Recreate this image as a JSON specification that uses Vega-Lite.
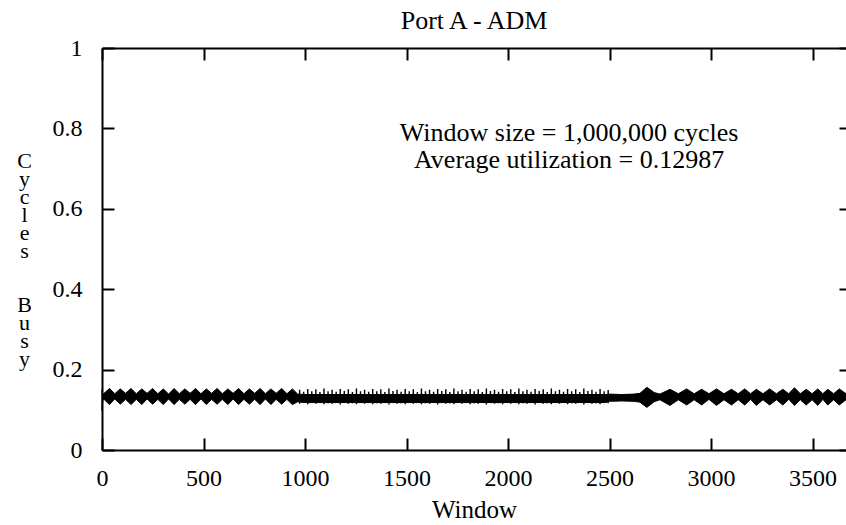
{
  "$schema": "https://vega.github.io/schema/vega-lite/v6.json",
  "autosize": {"type": "none"},
  "padding": {"left": 102, "top": 48, "right": 0, "bottom": 75},
  "width": 744,
  "height": 402,
  "background": "white",
  "title": {"text": "Port A - ADM", "font": "Liberation Serif", "fontSize": 26, "fontWeight": "normal", "color": "black", "baseline": "alphabetic", "offset": 19, "dy": 38, "anchor": "middle"},
  "config": {
    "view": {"stroke": null},
    "axis": {"grid": false, "domainColor": "black", "tickColor": "black", "labelColor": "black", "titleColor": "black", "labelFont": "Liberation Serif", "titleFont": "Liberation Serif", "labelFontSize": 24, "titleFontSize": 25, "titleFontWeight": "normal", "domainWidth": 2, "tickWidth": 2}
  },
  "data": {"values": [
    {"p":"d","w":0,"hi":0.150,"lo":0.098},
    {"p":"d","w":4,"hi":0.138,"lo":0.124},
    {"p":"d","w":10,"hi":0.141,"lo":0.126},
    {"p":"d","w":37,"hi":0.153,"lo":0.113},
    {"p":"d","w":63,"hi":0.140,"lo":0.127},
    {"p":"d","w":90,"hi":0.152,"lo":0.114},
    {"p":"d","w":116,"hi":0.141,"lo":0.126},
    {"p":"d","w":143,"hi":0.153,"lo":0.113},
    {"p":"d","w":169,"hi":0.140,"lo":0.126},
    {"p":"d","w":196,"hi":0.152,"lo":0.113},
    {"p":"d","w":222,"hi":0.141,"lo":0.127},
    {"p":"d","w":249,"hi":0.153,"lo":0.114},
    {"p":"d","w":275,"hi":0.140,"lo":0.126},
    {"p":"d","w":302,"hi":0.152,"lo":0.113},
    {"p":"d","w":328,"hi":0.139,"lo":0.127},
    {"p":"d","w":355,"hi":0.153,"lo":0.113},
    {"p":"d","w":381,"hi":0.140,"lo":0.126},
    {"p":"d","w":408,"hi":0.152,"lo":0.114},
    {"p":"d","w":434,"hi":0.141,"lo":0.126},
    {"p":"d","w":461,"hi":0.153,"lo":0.113},
    {"p":"d","w":487,"hi":0.140,"lo":0.127},
    {"p":"d","w":514,"hi":0.152,"lo":0.113},
    {"p":"d","w":540,"hi":0.141,"lo":0.126},
    {"p":"d","w":567,"hi":0.153,"lo":0.114},
    {"p":"d","w":593,"hi":0.140,"lo":0.126},
    {"p":"d","w":620,"hi":0.152,"lo":0.113},
    {"p":"d","w":646,"hi":0.141,"lo":0.127},
    {"p":"d","w":673,"hi":0.153,"lo":0.113},
    {"p":"d","w":699,"hi":0.140,"lo":0.126},
    {"p":"d","w":726,"hi":0.152,"lo":0.114},
    {"p":"d","w":752,"hi":0.141,"lo":0.126},
    {"p":"d","w":779,"hi":0.153,"lo":0.113},
    {"p":"d","w":805,"hi":0.140,"lo":0.127},
    {"p":"d","w":832,"hi":0.152,"lo":0.113},
    {"p":"d","w":858,"hi":0.141,"lo":0.126},
    {"p":"d","w":885,"hi":0.153,"lo":0.114},
    {"p":"d","w":911,"hi":0.140,"lo":0.126},
    {"p":"d","w":938,"hi":0.152,"lo":0.113},
    {"p":"d","w":964,"hi":0.139,"lo":0.120},
    {"p":"d","w":1000,"hi":0.138,"lo":0.118},
    {"p":"d","w":2480,"hi":0.138,"lo":0.118},
    {"p":"d","w":2500,"hi":0.139,"lo":0.121},
    {"p":"d","w":2560,"hi":0.138,"lo":0.122},
    {"p":"d","w":2620,"hi":0.139,"lo":0.121},
    {"p":"d","w":2650,"hi":0.141,"lo":0.119},
    {"p":"d","w":2684,"hi":0.156,"lo":0.106},
    {"p":"d","w":2720,"hi":0.143,"lo":0.120},
    {"p":"d","w":2748,"hi":0.139,"lo":0.125},
    {"p":"d","w":2798,"hi":0.151,"lo":0.111},
    {"p":"d","w":2839,"hi":0.140,"lo":0.125},
    {"p":"d","w":2880,"hi":0.152,"lo":0.112},
    {"p":"d","w":2917,"hi":0.140,"lo":0.125},
    {"p":"d","w":2954,"hi":0.151,"lo":0.112},
    {"p":"d","w":2990,"hi":0.140,"lo":0.126},
    {"p":"d","w":3027,"hi":0.152,"lo":0.111},
    {"p":"d","w":3064,"hi":0.140,"lo":0.125},
    {"p":"d","w":3101,"hi":0.151,"lo":0.112},
    {"p":"d","w":3134,"hi":0.140,"lo":0.125},
    {"p":"d","w":3166,"hi":0.152,"lo":0.112},
    {"p":"d","w":3195,"hi":0.140,"lo":0.126},
    {"p":"d","w":3223,"hi":0.151,"lo":0.111},
    {"p":"d","w":3256,"hi":0.140,"lo":0.125},
    {"p":"d","w":3289,"hi":0.152,"lo":0.112},
    {"p":"d","w":3322,"hi":0.140,"lo":0.125},
    {"p":"d","w":3354,"hi":0.151,"lo":0.112},
    {"p":"d","w":3383,"hi":0.140,"lo":0.126},
    {"p":"d","w":3411,"hi":0.155,"lo":0.111},
    {"p":"d","w":3440,"hi":0.140,"lo":0.125},
    {"p":"d","w":3469,"hi":0.151,"lo":0.112},
    {"p":"d","w":3498,"hi":0.140,"lo":0.125},
    {"p":"d","w":3526,"hi":0.152,"lo":0.111},
    {"p":"d","w":3551,"hi":0.140,"lo":0.126},
    {"p":"d","w":3575,"hi":0.151,"lo":0.112},
    {"p":"d","w":3604,"hi":0.140,"lo":0.125},
    {"p":"d","w":3632,"hi":0.152,"lo":0.112},
    {"p":"d","w":3665,"hi":0.140,"lo":0.125},
    {"p":"s","w":970,"hi":0.150,"lo":0.115},{"p":"s","w":977,"hi":0.137,"lo":0.119},
    {"p":"s","w":990,"hi":0.145,"lo":0.117},{"p":"s","w":997,"hi":0.137,"lo":0.119},
    {"p":"s","w":1010,"hi":0.152,"lo":0.114},{"p":"s","w":1017,"hi":0.137,"lo":0.119},
    {"p":"s","w":1030,"hi":0.146,"lo":0.117},{"p":"s","w":1037,"hi":0.137,"lo":0.119},
    {"p":"s","w":1050,"hi":0.151,"lo":0.115},{"p":"s","w":1057,"hi":0.137,"lo":0.119},
    {"p":"s","w":1070,"hi":0.144,"lo":0.117},{"p":"s","w":1077,"hi":0.137,"lo":0.119},
    {"p":"s","w":1090,"hi":0.153,"lo":0.114},{"p":"s","w":1097,"hi":0.137,"lo":0.119},
    {"p":"s","w":1110,"hi":0.146,"lo":0.116},{"p":"s","w":1117,"hi":0.137,"lo":0.119},
    {"p":"s","w":1130,"hi":0.150,"lo":0.115},{"p":"s","w":1137,"hi":0.137,"lo":0.119},
    {"p":"s","w":1150,"hi":0.145,"lo":0.117},{"p":"s","w":1157,"hi":0.137,"lo":0.119},
    {"p":"s","w":1170,"hi":0.152,"lo":0.113},{"p":"s","w":1177,"hi":0.137,"lo":0.119},
    {"p":"s","w":1190,"hi":0.147,"lo":0.117},{"p":"s","w":1197,"hi":0.137,"lo":0.119},
    {"p":"s","w":1210,"hi":0.151,"lo":0.115},{"p":"s","w":1217,"hi":0.137,"lo":0.119},
    {"p":"s","w":1230,"hi":0.144,"lo":0.116},{"p":"s","w":1237,"hi":0.137,"lo":0.119},
    {"p":"s","w":1250,"hi":0.153,"lo":0.114},{"p":"s","w":1257,"hi":0.137,"lo":0.119},
    {"p":"s","w":1270,"hi":0.146,"lo":0.117},{"p":"s","w":1277,"hi":0.137,"lo":0.119},
    {"p":"s","w":1290,"hi":0.150,"lo":0.115},{"p":"s","w":1297,"hi":0.137,"lo":0.119},
    {"p":"s","w":1310,"hi":0.145,"lo":0.117},{"p":"s","w":1317,"hi":0.137,"lo":0.119},
    {"p":"s","w":1330,"hi":0.152,"lo":0.114},{"p":"s","w":1337,"hi":0.137,"lo":0.119},
    {"p":"s","w":1350,"hi":0.146,"lo":0.116},{"p":"s","w":1357,"hi":0.137,"lo":0.119},
    {"p":"s","w":1370,"hi":0.151,"lo":0.115},{"p":"s","w":1377,"hi":0.137,"lo":0.119},
    {"p":"s","w":1390,"hi":0.144,"lo":0.117},{"p":"s","w":1397,"hi":0.137,"lo":0.119},
    {"p":"s","w":1410,"hi":0.153,"lo":0.113},{"p":"s","w":1417,"hi":0.137,"lo":0.119},
    {"p":"s","w":1430,"hi":0.147,"lo":0.117},{"p":"s","w":1437,"hi":0.137,"lo":0.119},
    {"p":"s","w":1450,"hi":0.150,"lo":0.115},{"p":"s","w":1457,"hi":0.137,"lo":0.119},
    {"p":"s","w":1470,"hi":0.145,"lo":0.116},{"p":"s","w":1477,"hi":0.137,"lo":0.119},
    {"p":"s","w":1490,"hi":0.152,"lo":0.114},{"p":"s","w":1497,"hi":0.137,"lo":0.119},
    {"p":"s","w":1510,"hi":0.146,"lo":0.117},{"p":"s","w":1517,"hi":0.137,"lo":0.119},
    {"p":"s","w":1530,"hi":0.151,"lo":0.115},{"p":"s","w":1537,"hi":0.137,"lo":0.119},
    {"p":"s","w":1550,"hi":0.144,"lo":0.117},{"p":"s","w":1557,"hi":0.137,"lo":0.119},
    {"p":"s","w":1570,"hi":0.153,"lo":0.114},{"p":"s","w":1577,"hi":0.137,"lo":0.119},
    {"p":"s","w":1590,"hi":0.146,"lo":0.116},{"p":"s","w":1597,"hi":0.137,"lo":0.119},
    {"p":"s","w":1610,"hi":0.150,"lo":0.115},{"p":"s","w":1617,"hi":0.137,"lo":0.119},
    {"p":"s","w":1630,"hi":0.145,"lo":0.117},{"p":"s","w":1637,"hi":0.137,"lo":0.119},
    {"p":"s","w":1650,"hi":0.152,"lo":0.113},{"p":"s","w":1657,"hi":0.137,"lo":0.119},
    {"p":"s","w":1670,"hi":0.147,"lo":0.117},{"p":"s","w":1677,"hi":0.137,"lo":0.119},
    {"p":"s","w":1690,"hi":0.151,"lo":0.115},{"p":"s","w":1697,"hi":0.137,"lo":0.119},
    {"p":"s","w":1710,"hi":0.144,"lo":0.116},{"p":"s","w":1717,"hi":0.137,"lo":0.119},
    {"p":"s","w":1730,"hi":0.153,"lo":0.114},{"p":"s","w":1737,"hi":0.137,"lo":0.119},
    {"p":"s","w":1750,"hi":0.146,"lo":0.117},{"p":"s","w":1757,"hi":0.137,"lo":0.119},
    {"p":"s","w":1770,"hi":0.150,"lo":0.115},{"p":"s","w":1777,"hi":0.137,"lo":0.119},
    {"p":"s","w":1790,"hi":0.145,"lo":0.117},{"p":"s","w":1797,"hi":0.137,"lo":0.119},
    {"p":"s","w":1810,"hi":0.152,"lo":0.114},{"p":"s","w":1817,"hi":0.137,"lo":0.119},
    {"p":"s","w":1830,"hi":0.146,"lo":0.116},{"p":"s","w":1837,"hi":0.137,"lo":0.119},
    {"p":"s","w":1850,"hi":0.151,"lo":0.115},{"p":"s","w":1857,"hi":0.137,"lo":0.119},
    {"p":"s","w":1870,"hi":0.144,"lo":0.117},{"p":"s","w":1877,"hi":0.137,"lo":0.119},
    {"p":"s","w":1890,"hi":0.153,"lo":0.113},{"p":"s","w":1897,"hi":0.137,"lo":0.119},
    {"p":"s","w":1910,"hi":0.147,"lo":0.117},{"p":"s","w":1917,"hi":0.137,"lo":0.119},
    {"p":"s","w":1930,"hi":0.150,"lo":0.115},{"p":"s","w":1937,"hi":0.137,"lo":0.119},
    {"p":"s","w":1950,"hi":0.145,"lo":0.116},{"p":"s","w":1957,"hi":0.137,"lo":0.119},
    {"p":"s","w":1970,"hi":0.152,"lo":0.114},{"p":"s","w":1977,"hi":0.137,"lo":0.119},
    {"p":"s","w":1990,"hi":0.146,"lo":0.117},{"p":"s","w":1997,"hi":0.137,"lo":0.119},
    {"p":"s","w":2010,"hi":0.151,"lo":0.115},{"p":"s","w":2017,"hi":0.137,"lo":0.119},
    {"p":"s","w":2030,"hi":0.144,"lo":0.117},{"p":"s","w":2037,"hi":0.137,"lo":0.119},
    {"p":"s","w":2050,"hi":0.153,"lo":0.114},{"p":"s","w":2057,"hi":0.137,"lo":0.119},
    {"p":"s","w":2070,"hi":0.146,"lo":0.116},{"p":"s","w":2077,"hi":0.137,"lo":0.119},
    {"p":"s","w":2090,"hi":0.150,"lo":0.115},{"p":"s","w":2097,"hi":0.137,"lo":0.119},
    {"p":"s","w":2110,"hi":0.145,"lo":0.117},{"p":"s","w":2117,"hi":0.137,"lo":0.119},
    {"p":"s","w":2130,"hi":0.152,"lo":0.113},{"p":"s","w":2137,"hi":0.137,"lo":0.119},
    {"p":"s","w":2150,"hi":0.147,"lo":0.117},{"p":"s","w":2157,"hi":0.137,"lo":0.119},
    {"p":"s","w":2170,"hi":0.151,"lo":0.115},{"p":"s","w":2177,"hi":0.137,"lo":0.119},
    {"p":"s","w":2190,"hi":0.144,"lo":0.116},{"p":"s","w":2197,"hi":0.137,"lo":0.119},
    {"p":"s","w":2210,"hi":0.153,"lo":0.114},{"p":"s","w":2217,"hi":0.137,"lo":0.119},
    {"p":"s","w":2230,"hi":0.146,"lo":0.117},{"p":"s","w":2237,"hi":0.137,"lo":0.119},
    {"p":"s","w":2250,"hi":0.150,"lo":0.115},{"p":"s","w":2257,"hi":0.137,"lo":0.119},
    {"p":"s","w":2270,"hi":0.145,"lo":0.117},{"p":"s","w":2277,"hi":0.137,"lo":0.119},
    {"p":"s","w":2290,"hi":0.152,"lo":0.114},{"p":"s","w":2297,"hi":0.137,"lo":0.119},
    {"p":"s","w":2310,"hi":0.146,"lo":0.116},{"p":"s","w":2317,"hi":0.137,"lo":0.119},
    {"p":"s","w":2330,"hi":0.151,"lo":0.115},{"p":"s","w":2337,"hi":0.137,"lo":0.119},
    {"p":"s","w":2350,"hi":0.144,"lo":0.117},{"p":"s","w":2357,"hi":0.137,"lo":0.119},
    {"p":"s","w":2370,"hi":0.153,"lo":0.113},{"p":"s","w":2377,"hi":0.137,"lo":0.119},
    {"p":"s","w":2390,"hi":0.147,"lo":0.117},{"p":"s","w":2397,"hi":0.137,"lo":0.119},
    {"p":"s","w":2410,"hi":0.150,"lo":0.115},{"p":"s","w":2417,"hi":0.137,"lo":0.119},
    {"p":"s","w":2430,"hi":0.145,"lo":0.116},{"p":"s","w":2437,"hi":0.137,"lo":0.119},
    {"p":"s","w":2450,"hi":0.152,"lo":0.114},{"p":"s","w":2457,"hi":0.137,"lo":0.119},
    {"p":"s","w":2470,"hi":0.146,"lo":0.117},{"p":"s","w":2477,"hi":0.137,"lo":0.119},
    {"p":"s","w":2490,"hi":0.149,"lo":0.116},{"p":"s","w":2497,"hi":0.137,"lo":0.119}
  ]},
  "resolve": {"axis": {"x": "independent", "y": "independent"}},
  "layer": [
    {
      "transform": [{"filter": "datum.p === 'd'"}],
      "mark": {"type": "area", "interpolate": "linear", "color": "black", "stroke": "black", "strokeWidth": 1},
      "encoding": {
        "x": {"field": "w", "type": "quantitative", "scale": {"domain": [0, 3665], "nice": false},
              "axis": {"orient": "bottom", "values": [0, 500, 1000, 1500, 2000, 2500, 3000, 3500], "format": "d", "tickSize": -12, "labelPadding": 47, "labelBaseline": "alphabetic", "labelFlush": false, "title": "Window", "titleBaseline": "alphabetic", "titleY": 67}},
        "y": {"field": "hi", "type": "quantitative", "scale": {"domain": [0, 1], "nice": false},
              "axis": {"orient": "left", "values": [0, 0.2, 0.4, 0.6, 0.8, 1], "format": "~g", "tickSize": -12, "labelPadding": 32, "labelFlush": false,
                       "title": ["C", "y", "c", "l", "e", "s", "\u200b", "\u200b", "B", "u", "s", "y"], "titleAngle": 0, "titleAlign": "center", "titleBaseline": "top", "titleX": -78, "titleY": 102, "titleLineHeight": 18, "titleFontSize": 22}},
        "y2": {"field": "lo"}
      }
    },
    {
      "transform": [{"filter": "datum.p === 's'"}],
      "mark": {"type": "area", "interpolate": "step-after", "color": "black"},
      "encoding": {
        "x": {"field": "w", "type": "quantitative", "scale": {"domain": [0, 3665], "nice": false},
              "axis": {"orient": "top", "values": [0, 500, 1000, 1500, 2000, 2500, 3000, 3500], "tickSize": -12, "labels": false, "title": null}},
        "y": {"field": "hi", "type": "quantitative", "scale": {"domain": [0, 1], "nice": false},
              "axis": {"orient": "right", "values": [0, 0.2, 0.4, 0.6, 0.8, 1], "tickSize": -7, "labels": false, "domain": false, "title": null}},
        "y2": {"field": "lo"}
      }
    },
    {
      "data": {"values": [{"line": "Window size = 1,000,000 cycles"}]},
      "mark": {"type": "text", "font": "Liberation Serif", "fontSize": 26, "color": "black", "align": "center", "baseline": "middle"},
      "encoding": {"x": {"datum": 2301, "axis": null}, "y": {"datum": 0.789, "axis": null}, "text": {"field": "line"}}
    },
    {
      "data": {"values": [{"line": "Average utilization = 0.12987"}]},
      "mark": {"type": "text", "font": "Liberation Serif", "fontSize": 26, "color": "black", "align": "center", "baseline": "middle"},
      "encoding": {"x": {"datum": 2301, "axis": null}, "y": {"datum": 0.721, "axis": null}, "text": {"field": "line"}}
    }
  ]
}
